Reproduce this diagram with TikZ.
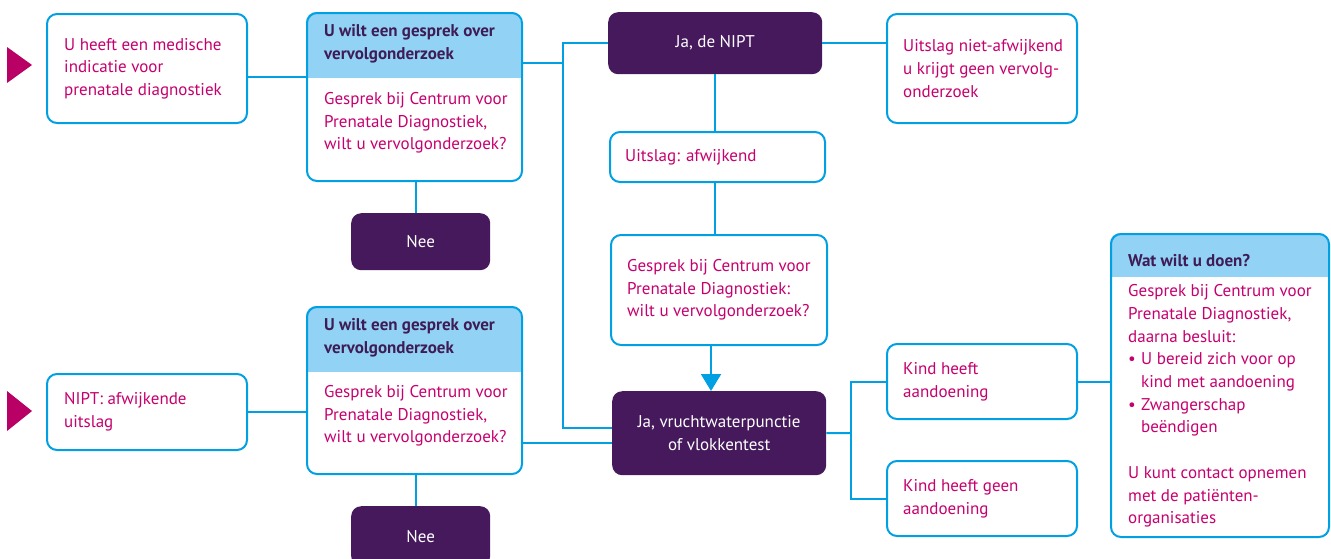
\documentclass[tikz,border=0pt]{standalone}
\usepackage{fontspec}
\setmainfont{PT Sans}
\usetikzlibrary{arrows.meta}
\definecolor{lnblue}{RGB}{0,160,227}
\definecolor{hdblue}{RGB}{146,210,245}
\definecolor{dpurple}{RGB}{69,25,92}
\definecolor{mag}{RGB}{198,0,110}
\definecolor{trimag}{RGB}{185,0,100}
\definecolor{hdtext}{RGB}{62,28,86}
\newcommand\myfs{\fontsize{17}{22.7}\selectfont}
\newcommand\mybul{\makebox[13pt][l]{•}}
\tikzset{
  sz/.style 2 args={minimum width=#1pt, minimum height=#2pt},
  boxs/.style={draw=lnblue, line width=2pt, rounded corners=10pt, anchor=north west, inner sep=0pt, fill=white},
  hboxs/.style={draw=lnblue, line width=2pt, rounded corners=10pt, anchor=north west, inner sep=0pt},
  darks/.style={fill=dpurple, rounded corners=10pt, anchor=north west, inner sep=0pt, text=white, align=center, font=\myfs},
  txt/.style={anchor=west, inner sep=0pt, align=left, text=mag, font=\myfs},
  htxt/.style={anchor=west, inner sep=0pt, align=left, text=hdtext, font=\myfs\bfseries},
  conn/.style={draw=lnblue, line width=2pt},
  tri/.style={fill=trimag}
}
\begin{document}
\begin{tikzpicture}[x=1pt,y=-1pt]
\useasboundingbox (0,0) rectangle (1331,558);
% triangles
\fill[tri] (7,47) -- (32,65) -- (7,83) -- cycle;
\fill[tri] (7,391) -- (32,411) -- (7,431) -- cycle;
% header fills
\begin{scope}
  \clip[rounded corners=10pt] (306,12) rectangle (521,180);
  \fill[hdblue] (306,12) rectangle (521,78);
\end{scope}
\begin{scope}
  \clip[rounded corners=10pt] (306,306) rectangle (521,473);
  \fill[hdblue] (306,306) rectangle (521,372);
\end{scope}
\begin{scope}
  \clip[rounded corners=10pt] (1110,233) rectangle (1328,536);
  \fill[hdblue] (1110,233) rectangle (1328,277);
\end{scope}
% boxes
\node[boxs, sz={200}{109}] (A) at (46,13) {};
\node[hboxs, sz={215}{168}] (B1) at (306,12) {};
\node[darks, sz={139}{57}] (N1) at (351,213) {Nee};
\node[darks, sz={214}{62}] (NIPT) at (608,12) {Ja, de NIPT};
\node[boxs, sz={190}{109}] (NA) at (886,13) {};
\node[boxs, sz={215}{50}] (UA) at (609,131) {};
\node[boxs, sz={216}{110}] (G3) at (610,234) {};
\node[darks, sz={214}{84}] (VW) at (612,391) {Ja, vruchtwaterpunctie\\of vlokkentest};
\node[boxs, sz={190}{75}] (K1) at (886,343) {};
\node[boxs, sz={190}{75}] (K2) at (886,460) {};
\node[hboxs, sz={218}{303}] (W) at (1110,233) {};
\node[boxs, sz={200}{76}] (A2) at (46,373) {};
\node[hboxs, sz={215}{167}] (B2) at (306,306) {};
\node[darks, sz={139}{60}] (N2) at (351,506) {Nee};
% texts
\node[txt] (tA) at ([xshift=18pt]A.west) {U heeft een medische\\indicatie voor\\prenatale diagnostiek};
\node[htxt] (hB1) at (324,44) {U wilt een gesprek over\\vervolgonderzoek};
\node[txt] (tB1) at (324,123) {Gesprek bij Centrum voor\\Prenatale Diagnostiek,\\wilt u vervolgonderzoek?};
\node[txt] (tNA) at ([xshift=17pt]NA.west) {Uitslag niet-afwijkend\\u krijgt geen vervolg-\\onderzoek};
\node[txt] (tUA) at ([xshift=16pt]UA.west) {Uitslag: afwijkend};
\node[txt] (tG3) at ([xshift=17pt]G3.west) {Gesprek bij Centrum voor\\Prenatale Diagnostiek:\\wilt u vervolgonderzoek?};
\node[txt] (tK1) at ([xshift=17pt]K1.west) {Kind heeft\\aandoening};
\node[txt] (tK2) at ([xshift=17pt]K2.west) {Kind heeft geen\\aandoening};
\node[htxt] (hW) at (1128,261) {Wat wilt u doen?};
\node[txt] (tW) at (1128,406) {Gesprek bij Centrum voor\\Prenatale Diagnostiek,\\daarna besluit:\\\mybul U bereid zich voor op\\\hspace*{13pt}kind met aandoening\\\mybul Zwangerschap\\\hspace*{13pt}beëndigen\\[22.7pt]U kunt contact opnemen\\met de patiënten-\\organisaties};
\node[txt] (tA2) at ([xshift=18pt]A2.west) {NIPT: afwijkende\\uitslag};
\node[htxt] (hB2) at (324,338) {U wilt een gesprek over\\vervolgonderzoek};
\node[txt] (tB2) at (324,416) {Gesprek bij Centrum voor\\Prenatale Diagnostiek,\\wilt u vervolgonderzoek?};
% helper coordinates
\coordinate (yA) at (0,77);
\coordinate (yB1) at (0,63);
\coordinate (trk) at (563,0);
\coordinate (yVW) at (0,428);
\coordinate (yB2) at (0,443);
\coordinate (xN) at (416,0);
\coordinate (xG) at (711,0);
\coordinate (jx) at (851,433);
% connectors
\draw[conn] (A.east |- yA) -- (B1.west |- yA);
\draw[conn] (B1.east |- yB1) -- (trk |- yB1);
\draw[conn] (NIPT.west) -| (trk |- yVW) -- (VW.west |- yVW);
\draw[conn] (B1.south -| xN) -- (N1.north -| xN);
\draw[conn] (NIPT.east) -- (NA.west |- NIPT.east);
\draw[conn] (NIPT.south) -- (NIPT.south |- UA.north);
\draw[conn] (UA.south -| NIPT.south) -- (G3.north -| NIPT.south);
\draw[conn, -{Triangle[width=20pt,length=17pt]}] (G3.south -| xG) -- (VW.north -| xG);
\draw[conn] (VW.east) -- (jx);
\draw[conn] (K1.west) -| (jx) |- (K2.west);
\draw[conn] (K1.east) -- (K1.east -| W.west);
\draw[conn] (A2.east) -- (B2.west |- A2.east);
\draw[conn] (B2.east |- yB2) -- (VW.west |- yB2);
\draw[conn] (B2.south -| xN) -- (N2.north -| xN);
\end{tikzpicture}
\end{document}
